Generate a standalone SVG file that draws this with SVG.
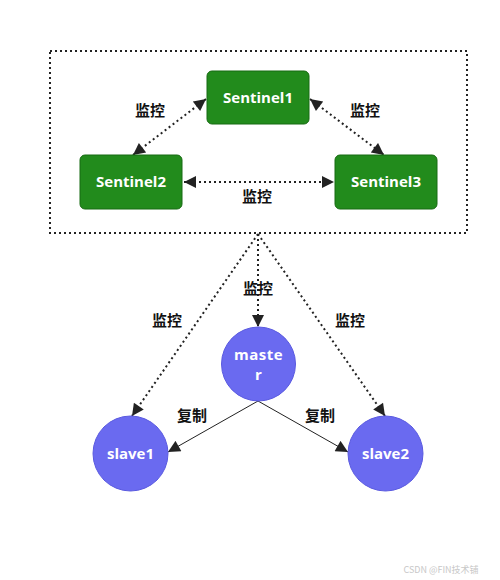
<svg xmlns="http://www.w3.org/2000/svg" width="500" height="580" viewBox="0 0 500 580">
<style>
.box{fill:#228b1c;stroke:#176a12;stroke-width:1}
.circ{fill:#6a6af0;stroke:#5a5ae0;stroke-width:1}
.nt{font-family:"Open Sans","DejaVu Sans",sans-serif;font-weight:bold;font-size:15px;fill:#fff;text-anchor:middle}
.lb{font-family:"Noto Sans CJK SC",sans-serif;font-weight:bold;font-size:15px;fill:#111;text-anchor:middle}
.dot{stroke:#222;stroke-width:2;stroke-dasharray:2,3;fill:none}
.sol{stroke:#222;stroke-width:1;fill:none}
</style>
<defs>
<marker id="ah" viewBox="0 0 10 10" refX="10" refY="5" markerWidth="14" markerHeight="12" markerUnits="userSpaceOnUse" orient="auto-start-reverse">
<path d="M0,0 L10,5 L0,10 z" fill="#222"/>
</marker>
</defs>
<rect x="50" y="51" width="417" height="182" fill="none" stroke="#222" stroke-width="2" stroke-dasharray="2,3"/>
<g id="connectors">
<line class="dot" x1="206" y1="99" x2="133" y2="155" marker-start="url(#ah)" marker-end="url(#ah)"/>
<line class="dot" x1="310" y1="99" x2="384" y2="155" marker-start="url(#ah)" marker-end="url(#ah)"/>
<line class="dot" x1="184" y1="182" x2="334" y2="182" marker-start="url(#ah)" marker-end="url(#ah)"/>
<line class="dot" x1="258" y1="234" x2="258" y2="327" marker-end="url(#ah)"/>
<line class="dot" x1="258" y1="234" x2="132" y2="416" marker-end="url(#ah)"/>
<line class="dot" x1="258" y1="234" x2="385" y2="416" marker-end="url(#ah)"/>
<line class="sol" x1="258" y1="401" x2="168" y2="452" marker-end="url(#ah)"/>
<line class="sol" x1="258" y1="401" x2="348" y2="452" marker-end="url(#ah)"/>
</g>
<g id="labels">
<text class="lb" x="150" y="116">监控</text>
<text class="lb" x="365" y="116">监控</text>
<text class="lb" x="257" y="202">监控</text>
<text class="lb" x="258" y="294">监控</text>
<text class="lb" x="167" y="326">监控</text>
<text class="lb" x="350" y="326">监控</text>
<text class="lb" x="192" y="421">复制</text>
<text class="lb" x="320" y="421">复制</text>
</g>
<g id="sentinel1"><rect class="box" x="207" y="71" width="102" height="53" rx="5"/><text class="nt" x="258" y="103">Sentinel1</text></g>
<g id="sentinel2"><rect class="box" x="80" y="155" width="102" height="54" rx="5"/><text class="nt" x="131" y="187">Sentinel2</text></g>
<g id="sentinel3"><rect class="box" x="335" y="155" width="102" height="54" rx="5"/><text class="nt" x="386" y="187">Sentinel3</text></g>
<g id="master"><circle class="circ" cx="258.5" cy="364" r="37"/><text class="nt" x="258.5" y="360" letter-spacing="0.5">maste</text><text class="nt" x="258.5" y="380">r</text></g>
<g id="slave1"><circle class="circ" cx="130.5" cy="453.5" r="37.5"/><text class="nt" x="130.5" y="459">slave1</text></g>
<g id="slave2"><circle class="circ" cx="385.5" cy="453.5" r="37.5"/><text class="nt" x="385.5" y="459">slave2</text></g>
<text x="441" y="573" font-family="'Noto Sans CJK SC',sans-serif" font-size="9" fill="#c8c8c8" text-anchor="middle">CSDN @FIN技术铺</text>
</svg>
